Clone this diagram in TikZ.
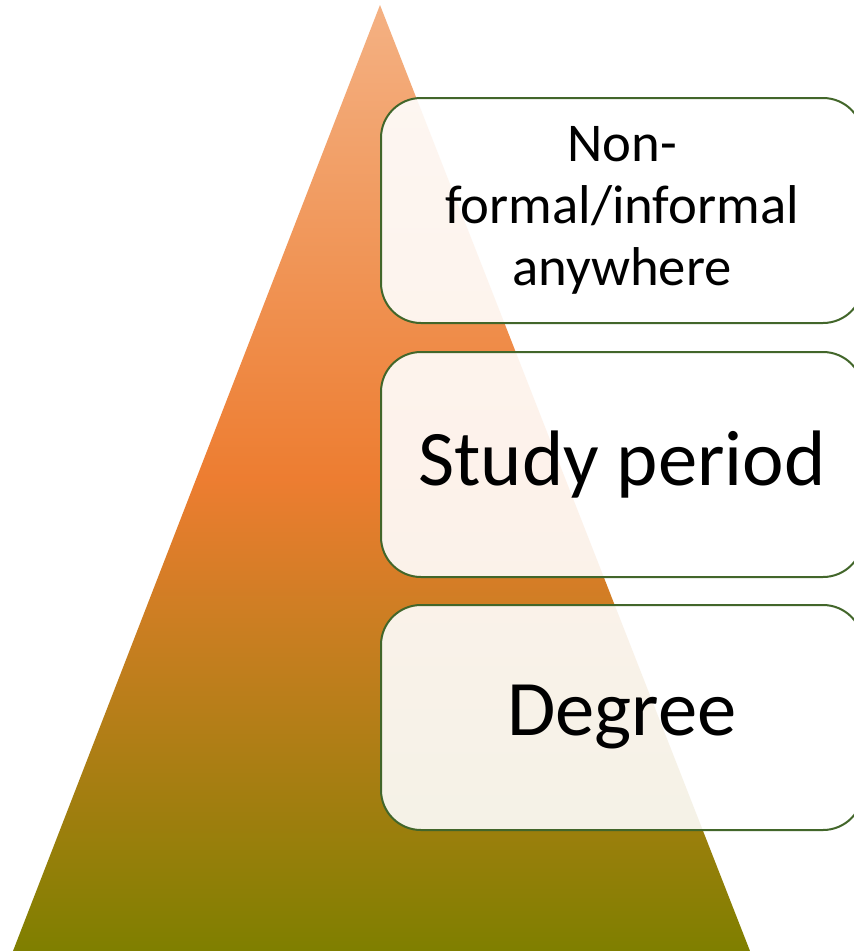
\documentclass[tikz,border=0pt]{standalone}
\usepackage{fontspec}
\setmainfont{Carlito}
\definecolor{peach}{RGB}{244,177,131}
\definecolor{pyrorange}{RGB}{237,125,49}
\definecolor{pyrolive}{RGB}{127,127,0}
\definecolor{boxgreen}{RGB}{66,102,42}
\tikzset{
    levelbox/.style={draw=boxgreen,line width=1.5pt,fill=white,fill opacity=0.9,text opacity=1,
        rounded corners=30pt,minimum width=361.5pt,minimum height=168.75pt,align=center}
}
\begin{document}
\begin{tikzpicture}[x=0.75pt,y=-0.75pt]
        \clip (0,0) rectangle (854,951);
        \fill[white] (0,0) rectangle (854,951);
        \shade[top color=peach,bottom color=pyrolive,middle color=pyrorange] (380,5) -- (750,951) -- (13,951) -- cycle;
        \node[levelbox,font=\fontsize{41}{46.5}\selectfont] (informal) at (622,210.5){Non-\\formal/informal\\anywhere};
        \node[levelbox,font=\fontsize{59}{65}\selectfont] (study) at (622,464.5){Study period};
        \node[levelbox,font=\fontsize{59}{65}\selectfont] (degree) at (622,717.5){Degree};
    \end{tikzpicture}
\end{document}
